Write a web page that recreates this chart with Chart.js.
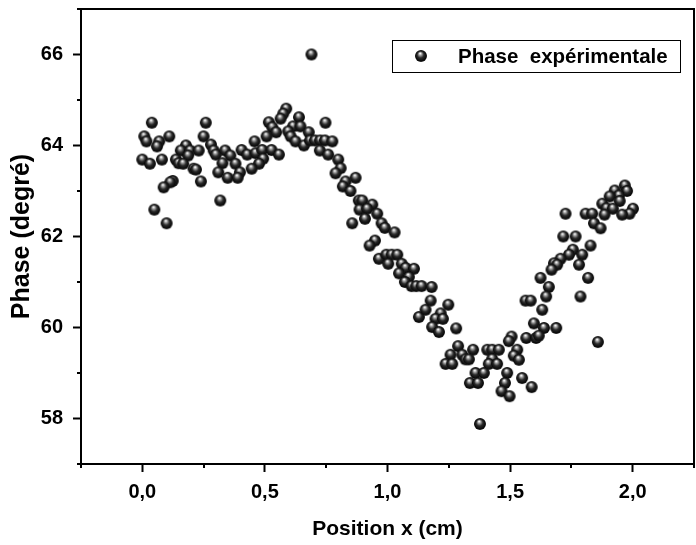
<!DOCTYPE html>
<html>
<head>
<meta charset="utf-8">
<script src="https://cdn.jsdelivr.net/npm/chart.js@4/dist/chart.umd.min.js"></script>
<style>
html,body{margin:0;padding:0;background:#fff;}
#wrap{width:696px;height:545px;}
</style>
</head>
<body>
<div id="wrap"><canvas id="c" width="696" height="545"></canvas></div>
<script>
// ---- data ----
const seriesLabel = "Phase  expérimentale";
const xTitle = "Position x (cm)";
const yTitle = "Phase (degré)";
const xTickLabels = ["0,0", "0,5", "1,0", "1,5", "2,0"];
const yTickLabels = ["58", "60", "62", "64", "66"];

const posX = [
  0.039,0.259,0.008,0.017,0.069,0.110,0.060,0.250,0.000,0.031,0.080,0.178,0.157,0.195,0.230,0.187,0.137,0.148,0.167,0.209,
  0.219,0.280,0.291,0.300,0.338,0.359,0.327,0.310,0.348,0.124,0.114,0.087,0.239,0.318,0.049,0.099,
  0.587,0.575,0.564,0.639,0.516,0.530,0.546,0.747,0.615,0.645,0.595,0.679,0.605,0.625,0.659,0.684,0.704,0.725,0.745,0.507,
  0.458,0.405,0.428,0.462,0.489,0.527,0.557,0.493,0.476,0.446,0.380,0.398,0.389,0.724,0.758,
  0.775,0.799,0.809,0.788,0.870,0.829,0.818,0.849,0.883,0.897,0.938,0.886,0.917,0.958,0.908,0.856,0.976,0.989,1.029,0.949,
  0.927,0.965,0.995,1.017,1.040,1.003,1.058,1.074,1.108,1.047,1.087,1.071,1.098,1.117,1.139,1.128,1.155,
  1.180,1.176,1.248,1.217,1.196,1.226,1.182,1.210,1.280,1.288,1.257,1.305,1.349,1.318,1.332,1.237,1.264,1.407,1.427,1.454,
  1.427,1.413,1.447,1.359,1.393,1.336,1.369,1.488,1.479,1.465,1.498,1.549,1.588,1.377,1.529,1.515,1.536,1.506,1.495,1.566,
  1.606,1.563,1.584,1.597,
  1.968,1.977,1.927,1.944,1.906,1.947,1.876,1.893,1.919,2.001,1.987,1.957,1.885,1.808,1.835,1.726,1.842,1.869,1.717,1.767,
  1.756,1.828,1.740,1.794,1.706,1.679,1.692,1.669,1.781,1.818,1.624,1.658,1.647,1.787,1.631,1.638,1.688,1.617,1.858,
  0.690
];
const phase = [
  64.50,64.50,64.20,64.09,64.09,64.20,63.98,64.20,63.69,63.60,63.69,64.00,63.89,63.89,63.89,63.78,63.69,63.61,63.60,63.49,
  63.47,64.02,63.89,63.80,63.89,63.78,63.61,63.41,63.29,63.22,63.19,63.08,63.21,62.79,62.59,62.29,
  64.81,64.70,64.59,64.62,64.51,64.40,64.29,64.50,64.42,64.42,64.31,64.29,64.20,64.09,64.00,64.11,64.11,64.11,64.11,64.20,
  64.09,63.90,63.80,63.83,63.90,63.90,63.80,63.71,63.60,63.49,63.60,63.41,63.29,63.89,63.80,
  64.09,63.69,63.50,63.39,63.29,63.21,63.10,63.00,62.79,62.79,62.70,62.59,62.61,62.50,62.39,62.29,62.29,62.19,62.09,61.91,
  61.80,61.51,61.60,61.60,61.60,61.40,61.40,61.31,61.29,61.19,61.11,61.00,60.91,60.91,60.91,60.23,60.39,
  60.89,60.59,60.50,60.31,60.19,60.19,60.01,59.90,59.98,59.59,59.40,59.40,59.51,59.30,59.30,59.20,59.20,59.51,59.51,59.51,
  59.31,59.20,59.20,59.00,59.00,58.78,58.78,59.00,58.78,58.60,58.49,58.89,58.69,57.88,59.51,59.38,59.29,59.80,59.70,59.77,
  59.77,60.59,60.59,60.09,
  63.12,63.00,63.01,62.90,62.88,62.78,62.72,62.62,62.61,62.61,62.50,62.48,62.48,62.50,62.50,62.50,62.29,62.18,62.00,62.00,
  61.71,61.80,61.60,61.60,61.51,61.41,61.38,61.27,61.38,61.09,61.09,60.89,60.68,60.68,60.39,59.99,59.99,59.82,59.68,
  66.00
];

// ---- marker: shaded sphere ----
function sphere(r){
  const s = 2*r + 2;
  const c = document.createElement('canvas');
  c.width = s; c.height = s;
  const g = c.getContext('2d');
  const cx = s/2, cy = s/2;
  const grad = g.createRadialGradient(cx - r*0.15, cy - r*0.45, r*0.05, cx, cy, r*1.05);
  grad.addColorStop(0, '#ffffff');
  grad.addColorStop(0.22, '#9a9a9a');
  grad.addColorStop(0.5, '#2a2a2a');
  grad.addColorStop(0.85, '#080808');
  grad.addColorStop(1, '#303030');
  g.fillStyle = grad;
  g.beginPath(); g.arc(cx, cy, r, 0, Math.PI*2); g.fill();
  return c;
}
const ball = sphere(6);

const FONT = "'Liberation Sans', Arial, sans-serif";
const isMajorX = v => Math.abs(v*2 - Math.round(v*2)) < 1e-6 && v > -0.01 && v < 2.01;
const isMajorY = v => Math.abs(v/2 - Math.round(v/2)) < 1e-6 && v > 57.5 && v < 66.5;

const framePlugin = {
  id: 'frame',
  afterDraw(chart){
    const {ctx, chartArea: a, scales} = chart;
    ctx.save();
    ctx.strokeStyle = '#000';
    ctx.lineWidth = 2;
    ctx.strokeRect(a.left, a.top, a.right - a.left, a.bottom - a.top);
    // minor ticks
    ctx.beginPath();
    scales.x.ticks.forEach(t => {
      if (!isMajorX(t.value)) {
        const px = Math.round(scales.x.getPixelForValue(t.value));
        ctx.moveTo(px, a.bottom); ctx.lineTo(px, a.bottom + 4);
      }
    });
    scales.y.ticks.forEach(t => {
      if (!isMajorY(t.value)) {
        const py = Math.round(scales.y.getPixelForValue(t.value));
        ctx.moveTo(a.left, py); ctx.lineTo(a.left - 4, py);
      }
    });
    ctx.stroke();
    // legend box
    const bw = 288, bh = 32;
    const bx = a.right - 14 - bw, by = a.top + 31;
    ctx.lineWidth = 1;
    ctx.strokeRect(bx + 0.5, by + 0.5, bw, bh);
    ctx.drawImage(ball, bx + 29 - ball.width/2, by + bh/2 - ball.height/2);
    ctx.fillStyle = '#000';
    ctx.font = "bold 20.5px " + FONT;
    ctx.textBaseline = 'middle';
    ctx.textAlign = 'left';
    ctx.fillText(chart.data.datasets[0].label, bx + 66, by + bh/2 + 1);
    ctx.restore();
  }
};

new Chart(document.getElementById('c'), {
  type: 'scatter',
  data: {
    datasets: [{
      label: seriesLabel,
      data: posX.map((x, i) => ({x: x, y: phase[i]})),
      pointStyle: ball,
      pointRadius: 6,
      pointHoverRadius: 6,
      backgroundColor: '#000',
      borderColor: '#000'
    }]
  },
  options: {
    responsive: false,
    animation: false,
    devicePixelRatio: 1,
    layout: {autoPadding: false, padding: {left: 0, right: 2, top: 9, bottom: 0}},
    plugins: {legend: {display: false}, tooltip: {enabled: false}},
    scales: {
      x: {
        type: 'linear', position: 'bottom', min: -0.25, max: 2.25,
        afterFit: s => { s.height = 81; s.paddingLeft = 0; s.paddingRight = 0; },
        border: {display: true, color: '#000', width: 2},
        grid: {drawOnChartArea: false, drawTicks: true, tickLength: 8,
               tickWidth: 2, tickColor: c => isMajorX(c.tick.value) ? '#000' : 'rgba(0,0,0,0)'},
        ticks: {
          stepSize: 0.25, autoSkip: false, maxRotation: 0, padding: 8,
          color: '#000', font: {family: FONT, size: 20, weight: 'bold'},
          callback: v => isMajorX(v) ? xTickLabels[Math.round(v*2)] : ''
        },
        title: {display: true, text: xTitle, color: '#000',
                font: {family: FONT, size: 21, weight: 'bold'}, padding: {top: 0, bottom: 3}}
      },
      y: {
        type: 'linear', min: 57, max: 67,
        afterFit: s => { s.width = 81; s.paddingTop = 0; s.paddingBottom = 0; },
        border: {display: true, color: '#000', width: 2},
        grid: {drawOnChartArea: false, drawTicks: true, tickLength: 8,
               tickWidth: 2, tickColor: c => isMajorY(c.tick.value) ? '#000' : 'rgba(0,0,0,0)'},
        ticks: {
          stepSize: 1, autoSkip: false, padding: 10,
          color: '#000', font: {family: FONT, size: 20, weight: 'bold'},
          callback: v => isMajorY(v) ? yTickLabels[Math.round((v - 58)/2)] : ''
        },
        title: {display: true, text: yTitle, color: '#000',
                font: {family: FONT, size: 25, weight: 'bold'}, padding: {top: 7, bottom: 0}}
      }
    }
  },
  plugins: [framePlugin]
});
</script>
</body>
</html>
